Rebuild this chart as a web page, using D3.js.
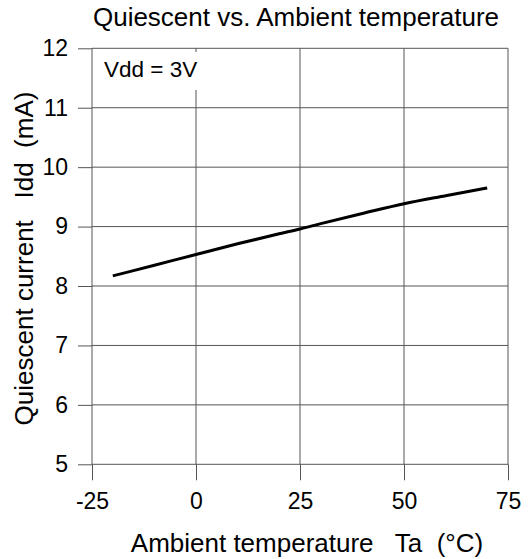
<!DOCTYPE html>
<html><head><meta charset="utf-8">
<script src="https://cdn.jsdelivr.net/npm/d3@7"></script>
<style>body{margin:0;background:#fff}svg{display:block}text{font-family:"Liberation Sans",Arial,sans-serif;white-space:pre}</style>
</head><body><svg id="c" width="530" height="559"></svg>
<script>
const temps = [-20, -10, 0, 10, 20, 25, 30, 40, 50, 60, 70];
const idd = [8.17, 8.35, 8.53, 8.71, 8.88, 8.96, 9.05, 9.22, 9.385, 9.52, 9.65];
const xTicks = [-25, 0, 25, 50, 75];
const yTicks = [5, 6, 7, 8, 9, 10, 11, 12];
const title = "Quiescent vs. Ambient temperature";
const xLabel = "Ambient temperature   Ta  (\u00B0C)";
const yLabel = "Quiescent current   Idd  (mA)";
const note = "Vdd = 3V";

const svg = d3.select("#c");
const L = 92, R = 508, T = 48.3, B = 464.3;
const x = d3.scaleLinear().domain([-25, 75]).range([L, R]);
const y = d3.scaleLinear().domain([5, 12]).range([B, T]);
const grid = "#555555";

// grid
svg.append("g").selectAll("line").data(yTicks).join("line")
  .attr("x1", L).attr("x2", R).attr("y1", d => y(d)).attr("y2", d => y(d))
  .attr("stroke", grid).attr("stroke-width", 1);
svg.append("g").selectAll("line").data(xTicks).join("line")
  .attr("x1", d => x(d)).attr("x2", d => x(d)).attr("y1", T).attr("y2", B)
  .attr("stroke", grid).attr("stroke-width", 1);

// axes
const xa = svg.append("g").attr("transform", `translate(0,${B})`)
  .call(d3.axisBottom(x).tickValues(xTicks).tickSize(16).tickPadding(12).tickFormat(d => String(d)));
const ya = svg.append("g").attr("transform", `translate(${L},0)`)
  .call(d3.axisLeft(y).tickValues(yTicks).tickSize(14).tickPadding(10).tickFormat(d => String(d)));
[xa, ya].forEach(a => {
  a.select(".domain").remove();
  a.selectAll("line").attr("stroke", grid);
  a.selectAll("text").attr("fill", "#000").style("font-size", "23px").style("font-family", "'Liberation Sans',Arial,sans-serif");
});

// note box
svg.append("rect").attr("x", 97).attr("y", 52).attr("width", 104).attr("height", 38).attr("fill", "#fff");
svg.append("text").attr("x", 104).attr("y", 76.5).attr("font-size", 22.5).text(note);

// curve
const line = d3.line().x((d, i) => x(temps[i])).y(d => y(d)).curve(d3.curveMonotoneX);
svg.append("path").datum(idd).attr("d", line).attr("fill", "none")
  .attr("stroke", "#000").attr("stroke-width", 3);

// titles
svg.append("text").attr("x", 296).attr("y", 26).attr("text-anchor", "middle").attr("font-size", 26).text(title);
svg.append("text").attr("x", 307).attr("y", 551.5).attr("text-anchor", "middle").attr("font-size", 26).text(xLabel);
svg.append("text").attr("transform", "translate(33,258.5) rotate(-90)").attr("text-anchor", "middle").attr("font-size", 26).text(yLabel);
</script></body></html>
